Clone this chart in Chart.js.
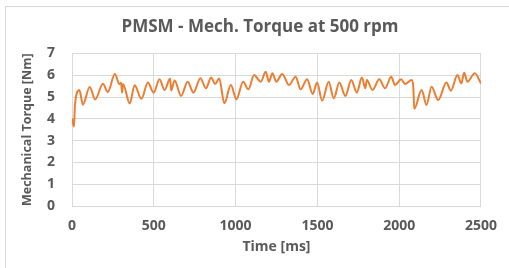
<!DOCTYPE html>
<html>
<head>
<meta charset="utf-8">
<script src="https://cdn.jsdelivr.net/npm/chart.js@4/dist/chart.umd.min.js"></script>
<style>
  html, body { margin: 0; padding: 0; background: #fff; overflow: hidden; }
  #wrap { position: relative; width: 509px; height: 268px; }
  #frame { position: absolute; left: 5px; top: 6px; width: 600px; height: 400px; border: 1px solid #d9d9d9; }
  canvas { position: absolute; left: 0; top: 0; }
</style>
</head>
<body>
<div id="wrap">
  <div id="frame"></div>
  <canvas id="torque" width="509" height="268"></canvas>
</div>
<script>
// time [ms] and mechanical torque [Nm]
let timeMs = [0, 12, 18, 45, 67, 108, 142, 189, 219, 262, 290, 300, 306, 312, 353, 383, 424, 464, 499, 535,
  566, 600, 606, 627, 667, 707, 742, 785, 819, 850, 875, 900, 931, 971, 1005, 1046, 1078, 1113, 1154, 1184,
  1204, 1225, 1249, 1285, 1326, 1367, 1397, 1437, 1472, 1498, 1529, 1569, 1600, 1634, 1671, 1707, 1741, 1772,
  1793, 1802, 1837, 1878, 1914, 1951, 1975, 2012, 2036, 2076, 2086, 2092, 2137, 2167, 2198, 2238, 2289, 2316,
  2356, 2380, 2397, 2417, 2462, 2500];
let torque = [4.02, 3.64, 4.63, 5.32, 4.65, 5.46, 4.89, 5.61, 5.23, 6.06, 5.59, 5.65, 5.2, 5.6, 4.70, 5.54, 4.92, 5.66, 5.2, 5.81,
  5.32, 5.85, 5.3, 5.76, 5.05, 5.70, 5.2, 5.86, 5.4, 5.9, 5.6, 5.85, 4.71, 5.55, 4.89, 5.70, 5.35, 6.01, 5.70, 6.16,
  5.70, 6.09, 5.70, 6.06, 5.55, 5.93, 5.35, 5.81, 5.14, 5.66, 4.83, 5.70, 4.94, 5.66, 5.05, 5.78, 5.2, 5.9,
  5.4, 5.78, 5.32, 5.81, 5.4, 5.93, 5.55, 5.81, 5.6, 5.78, 5.5, 4.46, 5.32, 4.63, 5.47, 4.86, 5.66, 5.29,
  6.01, 5.62, 6.11, 5.70, 6.09, 5.62];
let xTicks = [0, 500, 1000, 1500, 2000, 2500];
let yTicks = [0, 1, 2, 3, 4, 5, 6, 7];

let txt = '#595959';
let grid = '#d9d9d9';

let points = timeMs.map((t, i) => ({ x: t, y: torque[i] }));

let ctx = document.getElementById("torque").getContext("2d");

let torqueChart = new Chart(ctx, {
  type: "line",
  data: {
    datasets: [
      {
        label: "Mechanical Torque",
        data: points,
        borderColor: '#ed7d31',
        borderWidth: 2,
        pointRadius: 0,
        cubicInterpolationMode: 'monotone',
        fill: false,
      },
    ],
  },
  options: {
    responsive: false,
    animation: false,
    layout: { padding: { left: 11, right: 0, top: 0, bottom: 0 } },
    plugins: {
      legend: { display: false },
      tooltip: { enabled: false },
      title: {
        display: true,
        text: "PMSM - Mech. Torque at 500 rpm",
        color: txt,
        font: { family: "Open Sans", size: 17, weight: "bold" },
        padding: { top: 17, bottom: 16 },
      },
    },
    scales: {
      x: {
        type: 'linear',
        min: 0,
        max: 2500,
        afterBuildTicks: s => { s.ticks = xTicks.map(v => ({ value: v })); },
        afterFit: s => { s.height = 62; },
        grid: { color: grid, drawTicks: false },
        border: { color: grid },
        ticks: {
          color: txt, padding: 12,
          font: { family: "Open Sans", size: 14, weight: "bold" },
          callback: v => String(v),
        },
        title: {
          display: true,
          text: "Time [ms]",
          color: txt,
          padding: { top: 0, bottom: 13 },
          font: { family: "Open Sans", size: 14, weight: "bold" },
        },
      },
      y: {
        min: 0,
        max: 7,
        afterBuildTicks: s => { s.ticks = yTicks.map(v => ({ value: v })); },
        afterFit: s => { s.width = 61; },
        grid: { color: grid, drawTicks: false },
        border: { color: grid },
        ticks: {
          color: txt, padding: 17,
          font: { family: "Open Sans", size: 14, weight: "bold" },
          callback: v => String(v),
        },
        title: {
          display: true,
          text: "Mechanical Torque [Nm]",
          color: txt,
          padding: { top: 8.5, bottom: 0 },
          font: { family: "Open Sans", size: 12.5, weight: "bold" },
        },
      },
      // empty right-hand strip so the plot stops at the same place as the reference
      yRight: {
        position: 'right',
        display: true,
        afterFit: s => { s.width = 26; },
        grid: { display: false },
        border: { display: false },
        ticks: { display: false },
      },
    },
  },
});
</script>
</body>
</html>
